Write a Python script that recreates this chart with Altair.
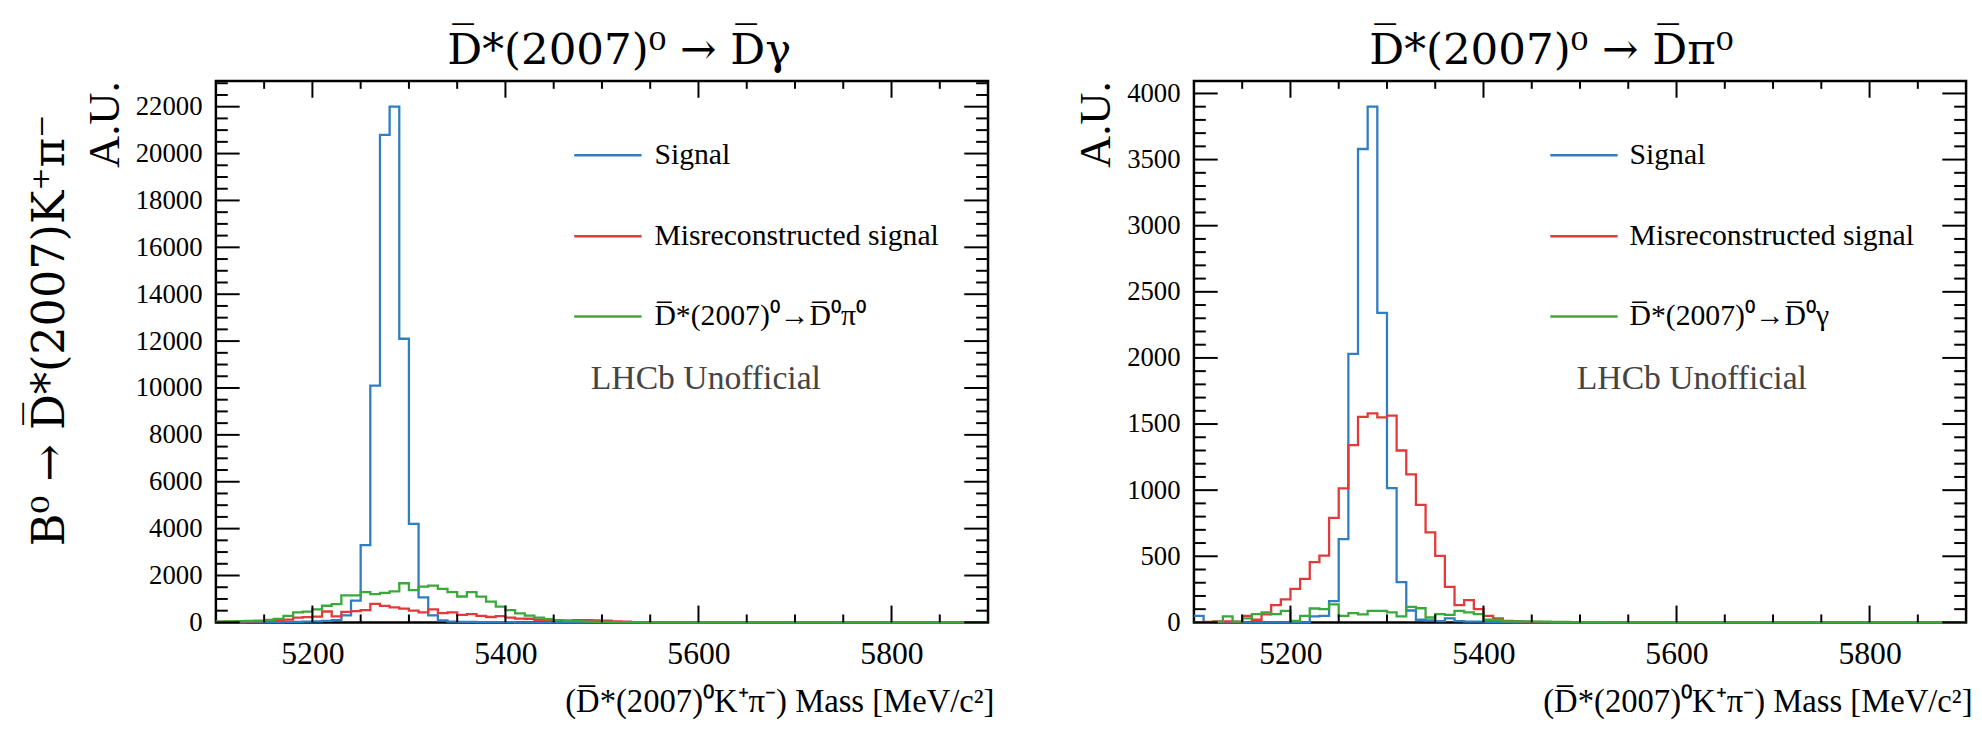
import altair as alt
import pandas as pd

# ---------------- data (bin contents, 10 MeV bins from 5100 to 5900) ----------------
BIN_START = 5100
BIN_WIDTH = 10

left_signal = [5, 5, 5, 10, 10, 10, 15, 20, 25, 30,
               40, 60, 100, 300, 930, 3300, 10100, 20800, 22000, 12100,
               4200, 1070, 300, 85, 35, 25, 20, 15, 10, 10,
               8, 5, 5, 3, 2, 2, 1, 1, 0, 0] + [0] * 40
left_misrec = [30, 35, 40, 45, 50, 100, 110, 120, 200, 220,
               250, 465, 260, 450, 480, 520, 790, 700, 640, 585,
               500, 430, 560, 400, 430, 320, 350, 280, 230, 265,
               200, 160, 155, 113, 100, 70, 75, 100, 100, 85,
               80, 45, 30, 15, 10, 8, 5, 5, 3, 2] + [0] * 30
left_other = [30, 40, 50, 60, 80, 110, 150, 280, 430, 460,
              560, 710, 780, 1150, 1150, 1290, 1205, 1260, 1325, 1670,
              1380, 1530, 1570, 1430, 1290, 1105, 1290, 1100, 890, 675,
              520, 380, 290, 200, 135, 100, 70, 50, 35, 25,
              20, 15, 10, 8, 5, 5, 3, 2, 2, 1] + [0] * 30

right_signal = [50, 0, 0, 0, 0, 0, 0, 0, 0, 0,
                0, 0, 45, 50, 160, 630, 2030, 3580, 3900, 2340,
                1016, 305, 90, 20, 15, 10, 30, 10, 5, 5,
                3, 2, 2, 1, 0, 0, 0, 0, 0, 0] + [0] * 40
right_misrec = [0, 3, 8, 8, 5, 50, 20, 60, 130, 174,
                254, 329, 456, 505, 790, 1013, 1341, 1555, 1581, 1551,
                1564, 1300, 1120, 889, 680, 503, 269, 130, 169, 100,
                50, 30, 12, 10, 5, 3, 2, 1, 0, 0] + [0] * 40
right_other = [0, 0, 5, 45, 5, 30, 62, 75, 62, 87,
               12, 50, 105, 100, 137, 50, 70, 60, 87, 87,
               75, 45, 117, 107, 37, 62, 57, 87, 75, 62,
               20, 20, 8, 8, 8, 5, 5, 3, 3, 2,
               1, 1, 1, 0, 0, 0, 0, 0, 0, 0] + [0] * 30

x_tick_labels = [5200, 5400, 5600, 5800]
left_y_major = [0, 2000, 4000, 6000, 8000, 10000, 12000, 14000, 16000, 18000, 20000, 22000]
right_y_major = [0, 500, 1000, 1500, 2000, 2500, 3000, 3500, 4000]

series_names = ["Signal", "Misreconstructed signal"]
left_third = "D\u0305*(2007)\u2070\u2192D\u0305\u2070\u03c0\u2070"
right_third = "D\u0305*(2007)\u2070\u2192D\u0305\u2070\u03b3"
left_title = "D\u0305*(2007)\u2070 \u2192 D\u0305\u03b3"
right_title = "D\u0305*(2007)\u2070 \u2192 D\u0305\u03c0\u2070"
outer_label = "B\u2070 \u2192 D\u0305*(2007)K\u207a\u03c0\u207b"
x_title = "(D\u0305*(2007)\u2070K\u207a\u03c0\u207b) Mass [MeV/c\u00b2]"

COLORS = ["#2f7ec2", "#e23a3a", "#3aa83a"]
SERIF = "Liberation Serif"
MATH = "DejaVu Serif"

W, H = 780, 547
X_DOMAIN = [5100, 5900]


def hist_df(vals):
    edges = [BIN_START + BIN_WIDTH * i for i in range(len(vals) + 1)]
    counts = list(vals) + [vals[-1]]
    return pd.DataFrame({"mass": edges, "count": counts})


def text_layer(txt, x, y, font, size, color="black", align="left", baseline="middle", angle=0, style="normal"):
    kw = dict(text=txt, font=font, fontSize=size, color=color, align=align, baseline=baseline, fontStyle=style)
    if angle:
        kw["angle"] = angle
    return alt.Chart(pd.DataFrame({"a": [0]})).mark_text(**kw).encode(x=alt.value(x), y=alt.value(y))


def panel(series, ymax, ymajor, yminor_step, third_label, title_txt, title_x, lhcb_x, leg_x0, text_x0, outer=None):
    xscale = alt.Scale(domain=X_DOMAIN, nice=False, zero=False)
    yscale = alt.Scale(domain=[0, ymax], nice=False, zero=True)
    xaxis = alt.Axis(values=x_tick_labels, format="d", ticks=False, domain=False, grid=False,
                     labelFont=SERIF, labelFontSize=32, labelColor="black", labelPadding=17,
                     title=x_title, titleFont=SERIF, titleFontSize=33, titleFontWeight="normal",
                     titleColor="black", titleAnchor="end", titleAlign="right", titleX=W + 6,
                     titlePadding=16)
    yaxis = alt.Axis(values=ymajor, format="d", ticks=False, domain=False, grid=False,
                     labelFont=SERIF, labelFontSize=27, labelColor="black", labelPadding=14,
                     title="A.U.", titleFont=SERIF, titleFontSize=45, titleFontWeight="normal",
                     titleColor="black", titleAnchor="end", titlePadding=8)
    X = alt.X("mass:Q", scale=xscale, axis=xaxis)
    Y = alt.Y("count:Q", scale=yscale, axis=yaxis)

    layers = []
    for vals, col in zip(series, COLORS):
        layers.append(alt.Chart(hist_df(vals)).mark_line(interpolate="step-after", strokeWidth=2.3, color=col)
                      .encode(x=X, y=Y))

    # inward ticks (ROOT style) on all four sides
    x_major = pd.DataFrame({"mass": x_tick_labels})
    x_minor = pd.DataFrame({"mass": [m for m in range(5150, 5900, 50) if m % 200 != 0]})
    for df, ln in ((x_major, 17), (x_minor, 8)):
        layers.append(alt.Chart(df).mark_rule(color="black", strokeWidth=2)
                      .encode(x=X, y=alt.value(H), y2=alt.value(H - ln)))
        layers.append(alt.Chart(df).mark_rule(color="black", strokeWidth=2)
                      .encode(x=X, y=alt.value(0), y2=alt.value(ln)))
    y_major = pd.DataFrame({"count": ymajor})
    y_minor = pd.DataFrame({"count": [v for v in range(0, int(ymax) + 1, yminor_step) if v not in ymajor]})
    for df, ln in ((y_major, 24), (y_minor, 12)):
        layers.append(alt.Chart(df).mark_rule(color="black", strokeWidth=2)
                      .encode(y=Y, x=alt.value(0), x2=alt.value(ln)))
        layers.append(alt.Chart(df).mark_rule(color="black", strokeWidth=2)
                      .encode(y=Y, x=alt.value(W), x2=alt.value(W - ln)))

    # legend
    labels = series_names + [third_label]
    rows = [75, 157, 238]
    for lab, col, ry in zip(labels, COLORS, rows):
        layers.append(alt.Chart(pd.DataFrame({"a": [0]})).mark_rule(color=col, strokeWidth=2.5)
                      .encode(x=alt.value(leg_x0), x2=alt.value(leg_x0 + 68), y=alt.value(ry)))
        layers.append(text_layer(lab, text_x0, ry, SERIF, 30))

    layers.append(text_layer("LHCb Unofficial", lhcb_x, 301, SERIF, 34, color="#444444", align="center"))
    layers.append(text_layer(title_txt, title_x, -17, MATH, 44, align="center", baseline="alphabetic"))
    if outer:
        layers.append(text_layer(outer, -167.5, 252, MATH, 45, align="center", baseline="middle", angle=270))

    return alt.layer(*layers).properties(width=W, height=H)


left = panel([left_signal, left_misrec, left_other], 23100, left_y_major, 500, left_third,
             left_title, 407.5, 495, 362, 443, outer=outer_label)
right = panel([right_signal, right_misrec, right_other], 4095, right_y_major, 100, right_third,
              right_title, 361, 503, 360, 440)

chart = (alt.hconcat(left, right, spacing=77)
         .properties(padding={"left": 19, "top": 16, "right": 0, "bottom": 0}, background="white")
         .configure_view(stroke="black", strokeWidth=2.5))

chart.save("out.html", embed_options={"renderer": "svg", "actions": False})
